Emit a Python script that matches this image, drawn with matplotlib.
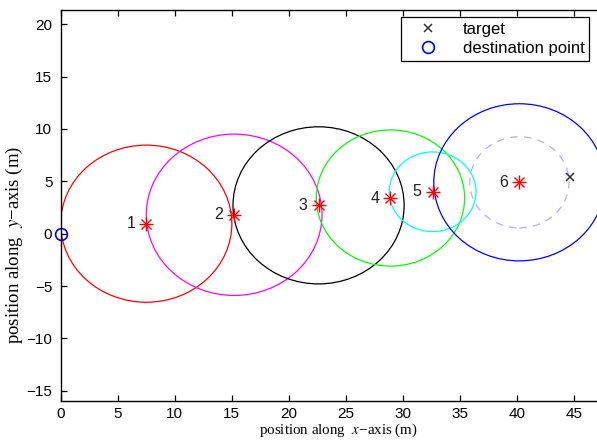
import matplotlib
matplotlib.use("Agg")
import matplotlib.pyplot as plt
from matplotlib.patches import Circle

plt.rcParams['font.family'] = ['Liberation Sans', 'DejaVu Sans']
plt.rcParams['mathtext.fontset'] = 'stix'

# robot positions (stars), labels and range circles
pos_x = [7.5, 15.2, 22.6, 28.9, 32.6, 40.2]
pos_y = [0.95, 1.8, 2.7, 3.4, 4.0, 4.9]
pos_labels = ['1', '2', '3', '4', '5', '6']
radii = [7.5, 7.7, 7.5, 6.5, 3.8, 7.5]
circle_colors = ['#ff0000', '#ff00ff', '#000000', '#00ff00', '#00ffff', '#0000ff']

# dashed inner circle around point 6
inner_radius = 4.35

target_x, target_y = 44.6, 5.4
dest_x, dest_y = 0.0, 0.0

x_ticks = [0, 5, 10, 15, 20, 25, 30, 35, 40, 45]
y_ticks = [-15, -10, -5, 0, 5, 10, 15, 20]

fig = plt.figure(figsize=(5.97, 4.40), dpi=100)
# axes runs past the right edge, like the cropped original
ax = fig.add_axes([60.7 / 597, 39.3 / 440, 570.5 / 597, 390.7 / 440])

for cx, cy, r, c in zip(pos_x, pos_y, radii, circle_colors):
    ax.add_patch(Circle((cx, cy), r, fill=False, edgecolor=c, lw=0.9))

ax.add_patch(Circle((pos_x[5], pos_y[5]), inner_radius, fill=False,
                    edgecolor='#b0b0ff', lw=0.9, linestyle=(0, (6, 5))))

# MATLAB style asterisk = plus + cross
ax.plot(pos_x, pos_y, linestyle='none', marker='+', color='red', markersize=10, mew=1.0)
ax.plot(pos_x, pos_y, linestyle='none', marker='x', color='red', markersize=7, mew=1.0)

for x, y, lab in zip(pos_x, pos_y, pos_labels):
    ax.annotate(lab, (x, y), xytext=(-8, 0), textcoords='offset points',
                ha='right', va='center', fontsize=11.5, color='#222222')

ax.plot([target_x], [target_y], linestyle='none', marker='x', color='#333333',
        markersize=6, mew=1.1, label='target')
ax.plot([dest_x], [dest_y], linestyle='none', marker='o', mfc='none', mec='blue',
        markersize=8.5, mew=1.2, label='destination point', clip_on=False)

ax.set_xlim(0, 50)
ax.set_ylim(-15.95, 21.35)
ax.set_xticks(x_ticks)
ax.set_yticks(y_ticks)
ax.tick_params(direction='in', length=4, width=0.9, labelsize=11,
               top=True, right=True, pad=6)
ax.tick_params(axis='x', pad=4.5)
for s in ax.spines.values():
    s.set_linewidth(1.0)

ax.set_xlabel('position along  $x$\u2212axis (m)', family='Liberation Serif', fontsize=10.8)
ax.set_ylabel('position along  $y$\u2212axis (m)', family='Liberation Serif', fontsize=13.5)
ax.xaxis.set_label_coords(0.486, -0.053)
ax.yaxis.set_label_coords(-0.063, 0.398)

leg = fig.legend(loc='upper left', bbox_to_anchor=(401 / 597, 1 - 17 / 440),
                 bbox_transform=fig.transFigure, borderaxespad=0, fontsize=12,
                 fancybox=False, edgecolor='black', framealpha=1,
                 handlelength=2.6, handletextpad=0.8, borderpad=0.3,
                 labelspacing=0.25)
leg.get_frame().set_linewidth(0.9)

fig.savefig('out.png', dpi=100)
